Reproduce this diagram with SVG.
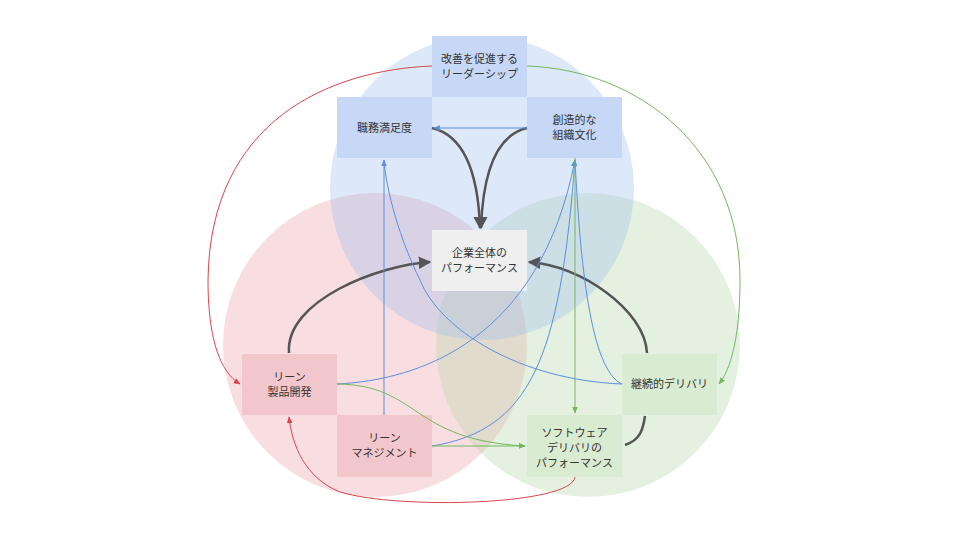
<svg xmlns="http://www.w3.org/2000/svg" width="960" height="540" viewBox="0 0 960 540">
<defs>
<style>
text{font-family:"Noto Sans CJK JP","Noto Sans",sans-serif;font-size:11px;fill:#333;text-anchor:middle}
.k{fill:none;stroke:#555;stroke-width:2.5}
.b{fill:none;stroke:#5b8fe0;stroke-width:1}
.g{fill:none;stroke:#72b85e;stroke-width:1}
.r{fill:none;stroke:#d9454b;stroke-width:1}
</style>
<marker id="mk" viewBox="0 0 10 10" refX="9" refY="5" markerWidth="5" markerHeight="5" orient="auto"><path d="M0,0L10,5L0,10z" fill="#555"/></marker>
<marker id="mb" viewBox="0 0 10 10" refX="9" refY="5" markerWidth="7" markerHeight="7" orient="auto"><path d="M0,1L10,5L0,9z" fill="#5b8fe0"/></marker>
<marker id="mg" viewBox="0 0 10 10" refX="9" refY="5" markerWidth="7" markerHeight="7" orient="auto"><path d="M0,1L10,5L0,9z" fill="#72b85e"/></marker>
<marker id="mr" viewBox="0 0 10 10" refX="9" refY="5" markerWidth="7" markerHeight="7" orient="auto"><path d="M0,1L10,5L0,9z" fill="#d9454b"/></marker>
</defs>
<rect width="960" height="540" fill="#fff"/>
<g id="circles">
<circle cx="375" cy="345" r="152" fill="#eaa0a8" fill-opacity="0.35"/>
<circle cx="588" cy="345" r="152" fill="#b5d8a6" fill-opacity="0.35"/>
<circle cx="482" cy="188" r="152" fill="#9dbcec" fill-opacity="0.35"/>
</g>
<g id="n-lead"><rect x="432" y="36" width="95" height="61" fill="#c6d8f5"/><text x="479.5" y="63">改善を促進する</text><text x="479.5" y="78">リーダーシップ</text></g>
<g id="n-job"><rect x="337" y="97" width="95" height="61" fill="#c6d8f5"/><text x="384.5" y="132">職務満足度</text></g>
<g id="n-culture"><rect x="527" y="97" width="95" height="61" fill="#c6d8f5"/><text x="574.5" y="124">創造的な</text><text x="574.5" y="139">組織文化</text></g>
<g id="n-org"><rect x="432" y="230" width="95" height="61" fill="#efefef"/><text x="479.5" y="257">企業全体の</text><text x="479.5" y="272">パフォーマンス</text></g>
<g id="n-lpd"><rect x="242" y="354" width="95" height="61" fill="#f2c7cb"/><text x="289.5" y="381">リーン</text><text x="289.5" y="396">製品開発</text></g>
<g id="n-lm"><rect x="337" y="415" width="95" height="62" fill="#f2c7cb"/><text x="384.5" y="442">リーン</text><text x="384.5" y="457">マネジメント</text></g>
<g id="n-cd"><rect x="622" y="354" width="95" height="61" fill="#d9ebd1"/><text x="669.5" y="388">継続的デリバリ</text></g>
<g id="n-sdp"><rect x="527" y="415" width="95" height="62" fill="#d9ebd1"/><text x="574.5" y="437">ソフトウェア</text><text x="574.5" y="452">デリバリの</text><text x="574.5" y="467">パフォーマンス</text></g>
<g id="connectors">
<path class="k" d="M432,128C462,135 478,170 480,228" marker-end="url(#mk)"/>
<path class="k" d="M527,128C497,135 483,170 481,228" marker-end="url(#mk)"/>
<path class="k" d="M289,353C285,300 380,265 430,262" marker-end="url(#mk)"/>
<path class="k" d="M647,353C645,310 580,265 529,262" marker-end="url(#mk)"/>
<path class="k" d="M625,445C640,440 643,430 645,416"/>
<path class="b" d="M527,128H434" marker-end="url(#mb)"/>
<path class="b" d="M384,415V160" marker-end="url(#mb)"/>
<path class="b" d="M337,384C420,380 540,340 575,160" marker-end="url(#mb)"/>
<path class="b" d="M432,446C530,430 560,360 575,160" marker-end="url(#mb)"/>
<path class="b" d="M622,384C520,380 440,330 420,280C400,240 386,190 384,160"/>
<path class="b" d="M622,384C590,370 580,260 575,160"/>
<path class="g" d="M527,66C640,70 740,150 740,280C740,340 730,370 719,384" marker-end="url(#mg)"/>
<path class="g" d="M575,158V413" marker-end="url(#mg)"/>
<path class="g" d="M337,384C420,385 410,440 525,446" marker-end="url(#mg)"/>
<path class="g" d="M432,446H525" marker-end="url(#mg)"/>
<path class="r" d="M432,66C330,70 210,120 208,280C208,350 225,375 240,384" marker-end="url(#mr)"/>
<path class="r" d="M575,477C572,505 400,510 340,492C305,478 292,445 289,417" marker-end="url(#mr)"/>
</g>
</svg>
